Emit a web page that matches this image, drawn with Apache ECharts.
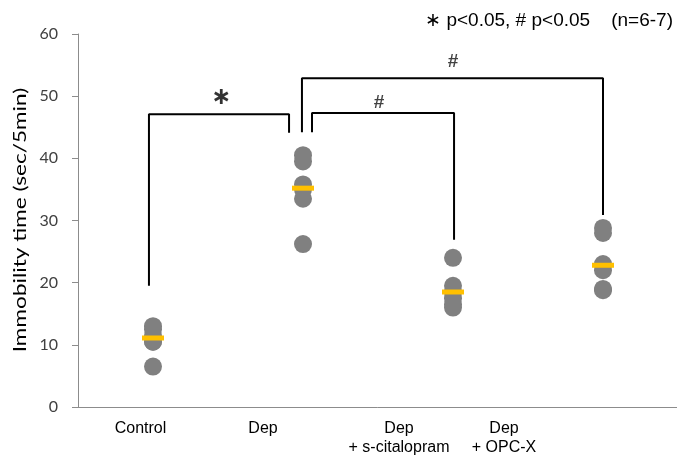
<!DOCTYPE html>
<html><head><meta charset="utf-8">
<script src="https://cdn.jsdelivr.net/npm/echarts@6/dist/echarts.min.js"></script>
<style>html,body{margin:0;padding:0;background:#fff}#c{width:677px;height:466px}</style>
</head><body><div id="c"></div>
<script>
var categories = ['Control', 'Dep', 'Dep\n+ s-citalopram', 'Dep\n+ OPC-X'];
var controlValues = [13, 12.5, 11.5, 10.5, 10.5, 6.5];
var depValues = [40.5, 39.5, 35.8, 35, 33.5, 26.2];
var citalopramValues = [24, 19.5, 18.5, 17.5, 16.5, 16];
var opcxValues = [28.8, 28, 23, 22, 19, 18.8];
var meanValues = [11.1, 35.2, 18.5, 22.8];
var yTicks = [0, 10, 20, 30, 40, 50, 60];
var yTitle = 'Immobility time (sec/5min)';
var noteText = '\u2217 p<0.05, # p<0.05    (n=6-7)';
// significance brackets: [x (category units, centers at i+0.5), y value]
var bracketStar = [[0.473, 19.5], [0.473, 47.1], [1.407, 47.1], [1.407, 44.1]];
var bracketHashBig = [[1.493, 44.2], [1.493, 52.9], [3.5, 52.9], [3.5, 30.9]];
var bracketHashSmall = [[1.56, 44.2], [1.56, 47.3], [2.507, 47.3], [2.507, 26.9]];
var signMarks = [
  {name: '\u2217', value: [0.953, 49.7]},
  {name: '#', value: [2.5, 55.6]},
  {name: '#', value: [2.007, 49.0]}
];
var labelShift = [25, 80, 108, 198];

var groups = [controlValues, depValues, citalopramValues, opcxValues];
var dots = [];
groups.forEach(function (arr, i) { arr.forEach(function (v) { dots.push([i, v]); }); });
var means = meanValues.map(function (v, i) { return [i, v]; });

var rich = {};
labelShift.forEach(function (s, i) {
  rich['p' + i] = {padding: [0, s, 0, 0], fontSize: 16, fontFamily: 'Liberation Sans, Arial', color: '#000', lineHeight: 19};
});

var chart = echarts.init(document.getElementById('c'));
var bracketStyle = {color: '#000', width: 2};
chart.setOption({
  animation: false,
  grid: {left: 78, width: 600, top: 34, bottom: 59, containLabel: false, outerBoundsMode: 'none'},
  xAxis: [{
    type: 'category', data: categories, boundaryGap: true,
    axisLine: {lineStyle: {color: '#8c8c8c', width: 1}},
    axisTick: {show: false},
    axisLabel: {
      margin: 12, interval: 0,
      formatter: function (v, i) {
        return v.split('\n').map(function (l) { return '{p' + i + '|' + l + '}'; }).join('\n');
      },
      rich: rich
    }
  }, {
    type: 'value', min: 0, max: 4, show: false
  }],
  yAxis: {
    type: 'value', min: yTicks[0], max: yTicks[yTicks.length - 1], interval: 10,
    splitLine: {show: false},
    axisLine: {show: true, lineStyle: {color: '#8c8c8c'}},
    axisTick: {show: true, length: 6, lineStyle: {color: '#8c8c8c'}},
    axisLabel: {fontSize: 16, color: '#404040', fontFamily: 'Lato, Open Sans', margin: 20}
  },
  series: [
    {type: 'scatter', data: dots, symbol: 'circle', symbolSize: 18, itemStyle: {color: '#808080', opacity: 1}, z: 2},
    {type: 'scatter', data: means, symbol: 'rect', symbolSize: [22, 5], itemStyle: {color: '#FFC000', opacity: 1}, z: 3},
    {type: 'line', xAxisIndex: 1, data: bracketStar, showSymbol: false, symbol: 'none', lineStyle: bracketStyle, z: 4},
    {type: 'line', xAxisIndex: 1, data: bracketHashBig, showSymbol: false, symbol: 'none', lineStyle: bracketStyle, z: 4},
    {type: 'line', xAxisIndex: 1, data: bracketHashSmall, showSymbol: false, symbol: 'none', lineStyle: bracketStyle, z: 4},
    {type: 'scatter', xAxisIndex: 1, data: signMarks, symbolSize: 1, itemStyle: {color: 'rgba(0,0,0,0)'},
      label: {show: true, position: 'inside',
        formatter: function (p) { return p.name === '#' ? '{h|#}' : '{s|' + p.name + '}'; },
        rich: {
          h: {fontSize: 19, fontWeight: 'bold', fontFamily: 'Liberation Sans, Arial', color: '#111'},
          s: {fontSize: 24, fontWeight: 'bold', fontFamily: 'DejaVu Sans', color: '#000'}
        }}, z: 5}
  ],
  graphic: [{
    type: 'text', right: 4, top: 11,
    style: {text: noteText, fontSize: 19, fontFamily: 'Liberation Sans, Arial', fill: '#000'}
  }, {
    type: 'text', x: 21, y: 220, rotation: Math.PI / 2, scaleX: 1.33,
    style: {text: yTitle, fontSize: 17, fontFamily: 'Lato, Open Sans', fill: '#000', align: 'center', verticalAlign: 'middle'}
  }]
});
</script></body></html>
